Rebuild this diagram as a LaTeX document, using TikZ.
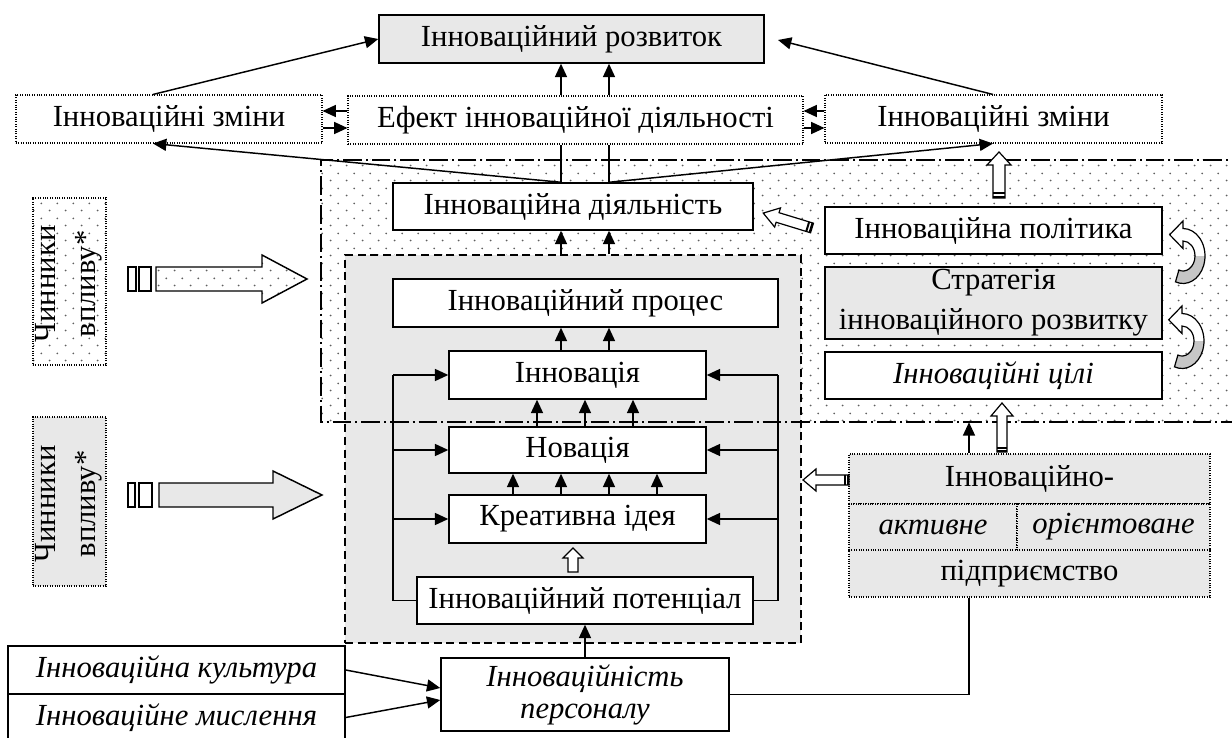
\documentclass[tikz,border=0pt]{standalone}
\usepackage{fontspec}
\setmainfont{Liberation Serif}
\usetikzlibrary{arrows.meta,patterns}
\definecolor{boxgray}{RGB}{232,232,232}
\definecolor{dotgray}{RGB}{95,95,95}
\pgfdeclarepatternformonly{sdots}{\pgfpointorigin}{\pgfpoint{11.7pt}{11.25pt}}{\pgfpoint{11.7pt}{11.25pt}}{%
 \pgfpathcircle{\pgfpoint{2pt}{2pt}}{0.75pt}%
 \pgfpathcircle{\pgfpoint{7.85pt}{7.625pt}}{0.75pt}%
 \pgfusepath{fill}}
\newcommand\myfs{\fontsize{23}{27}\selectfont}
% box node from pixel corners: style, x1, y1, x2, y2, name
\newcommand\bx[6]{\node[#1, minimum width={(#4-#2)*0.75pt}, minimum height={(#5-#3)*0.75pt}] (#6) at ({(#2+#4)/2},{(#3+#5)/2})}
% hollow block arrow: x, y (tail), angle, length, shaft half, head half, head length, stripes
\newcommand\harrow[8]{%
\begin{scope}[shift={(#1,#2)}, rotate=#3, x=0.75pt, y=0.75pt]
 \draw[line width=0.9pt, fill=white] (0,-#5) -- ({#4-#7},-#5) -- ({#4-#7},-#6) -- (#4,0) -- ({#4-#7},#6) -- ({#4-#7},#5) -- (0,#5) -- cycle;
 \ifnum#8=1
 \fill (0,-#5) rectangle (2,#5);
 \fill (3.5,-#5) rectangle (5.5,#5);
 \fi
\end{scope}}
\newcommand\curvarr[2]{%
\begin{scope}[shift={(#1,#2)}, yscale=1.25]
 \path[fill=white] (-110:16.5pt) arc[start angle=-110,end angle=90,radius=16.5pt] -- (0pt,21pt) -- (-10pt,12.75pt) -- (0pt,4.5pt) -- (0pt,9pt) arc[start angle=90,end angle=-110,radius=9pt] -- cycle;
 \fill[gray!45] (-110:16.5pt) arc[start angle=-110,end angle=0,radius=16.5pt] -- (0:9pt) arc[start angle=0,end angle=-110,radius=9pt] -- cycle;
 \draw[line width=0.9pt] (-110:16.5pt) arc[start angle=-110,end angle=90,radius=16.5pt] -- (0pt,21pt) -- (-10pt,12.75pt) -- (0pt,4.5pt) -- (0pt,9pt) arc[start angle=90,end angle=-110,radius=9pt] -- cycle;
\end{scope}}
\begin{document}
\begin{tikzpicture}[x=0.75pt,y=-0.75pt,
 base/.style={inner sep=0pt, font=\myfs},
 wbox/.style={base, draw, line width=1.1pt, fill=white},
 gbox/.style={base, draw, line width=1.1pt, fill=boxgray},
 dbox/.style={base, draw, line width=0.8pt, dash pattern=on 0.8pt off 1pt, fill=white},
 dgbox/.style={dbox, fill=boxgray},
 ibox/.style={wbox, font=\myfs\itshape},
 con/.style={line width=1.1pt},
 arr/.style={con, -{Triangle[length=10pt,width=9pt]}},
 dashdot/.style={line width=1.2pt, dash pattern=on 14pt off 3pt on 1.5pt off 3pt}]
\useasboundingbox (0,0) rectangle (1232,738);

% regions
\bx{inner sep=0pt, pattern=sdots, pattern color=dotgray}{321}{160}{1250}{422}{zone} {};
\bx{inner sep=0pt, draw, fill=boxgray, line width=1.1pt, dash pattern=on 6pt off 3.5pt}{345}{255}{801}{643}{core} {};
\draw[dashdot] (zone.north east) -- (zone.north west) -- (zone.south west) -- (zone.south east);

% nodes
\bx{gbox}{379}{15}{764}{63}{razv} {Інноваційний розвиток};
\bx{dbox}{16}{95}{322}{143}{zl} {Інноваційні зміни};
\bx{dbox}{348}{96}{803}{144}{eff} {Ефект інноваційної діяльності};
\bx{dbox}{825}{95}{1162}{143}{zr} {Інноваційні зміни};
\bx{wbox}{393}{183}{753}{230}{dial} {Інноваційна діяльність};
\bx{wbox}{825}{207}{1162}{254}{pol} {Інноваційна політика};
\bx{gbox, line width=2pt, align=center, font=\fontsize{23}{30}\selectfont}{825}{267}{1162}{339}{str} {Стратегія\\інноваційного розвитку};
\bx{ibox}{825}{352}{1162}{399}{cil} {Інноваційні цілі};
\bx{wbox}{393}{279}{778}{327}{proc} {Інноваційний процес};
\bx{wbox}{449}{351}{706}{399}{inn} {Інновація};
\bx{wbox}{449}{427}{706}{473}{nov} {Новація};
\bx{wbox}{449}{495}{706}{543}{kre} {Креативна ідея};
\bx{wbox}{417}{577}{753}{624}{pot} {Інноваційний потенціал};
\bx{ibox}{8}{646}{345}{694}{kul} {Інноваційна культура};
\bx{ibox}{8}{694}{345}{741}{mys} {Інноваційне мислення};
\bx{ibox, align=center, font=\fontsize{23}{24}\selectfont\itshape}{441}{658}{729}{731}{pers} {Інноваційність\\персоналу};

\bx{dgbox}{849}{454}{1210}{504}{ent1} {Інноваційно-};
\bx{dgbox, font=\myfs\itshape}{849}{504}{1017}{550}{ent2a} {активне};
\bx{dgbox, font=\myfs\itshape}{1017}{504}{1210}{550}{ent2b} {орієнтоване};
\bx{dgbox}{849}{550}{1210}{597}{ent3} {підприємство};

\bx{dbox, pattern=sdots, pattern color=dotgray}{33}{198}{106}{365}{f1} {};
\node[base, rotate=90, align=center, font=\fontsize{23}{30}\selectfont] (f1t) at (69,284) {Чинники\\впливу*};
\bx{dgbox}{33}{417}{106}{586}{f2} {};
\node[base, rotate=90, align=center, font=\fontsize{23}{30}\selectfont] (f2t) at (69,504) {Чинники\\впливу*};

% factor block arrows
\draw[line width=1.1pt, pattern=sdots, pattern color=dotgray] (156,267) -- (262,267) -- (262,255) -- (307,279) -- (262,303) -- (262,291) -- (156,291) -- cycle;
\draw[line width=1.1pt] (128,267) rectangle (136,291) (139,267) rectangle (151,291);
\draw[line width=1.1pt, fill=boxgray] (159,483) -- (273,483) -- (273,471) -- (322,495) -- (273,519) -- (273,507) -- (159,507) -- cycle;
\draw[line width=1.1pt] (128,483) rectangle (135,507) (139,483) rectangle (152,507);

% connectors top
\draw[arr] (561,0 |- eff.north) -- (561,0 |- razv.south);
\draw[arr] (609,0 |- eff.north) -- (609,0 |- razv.south);
\draw[con] (561,0 |- dial.north) -- (561,0 |- eff.south);
\draw[con] (609,0 |- dial.north) -- (609,0 |- eff.south);
\draw[arr] (561,0 |- dial.north) -- (153,0 |- zl.south);
\draw[arr] (609,0 |- dial.north) -- (993,0 |- zr.south);
\draw[arr] (153,0 |- zl.north) -- (razv.west);
\coordinate (rzr) at (778,40);
\draw[arr] (993,0 |- zr.north) -- (rzr);
\draw[arr] (eff.west |- 0,111) -- (zl.east |- 0,111);
\draw[arr] (zl.east |- 0,128) -- (eff.west |- 0,128);
\draw[arr] (zr.west |- 0,111) -- (eff.east |- 0,111);
\draw[arr] (eff.east |- 0,128) -- (zr.west |- 0,128);

% core
\draw[arr] (561,0 |- core.north) -- (561,0 |- dial.south);
\draw[arr] (609,0 |- core.north) -- (609,0 |- dial.south);
\draw[arr] (561,0 |- inn.north) -- (561,0 |- proc.south);
\draw[arr] (609,0 |- inn.north) -- (609,0 |- proc.south);
\foreach \x in {537,585,633} \draw[arr] (\x,0 |- nov.north) -- (\x,0 |- inn.south);
\foreach \x in {513,561,609,657} \draw[arr] (\x,0 |- kre.north) -- (\x,0 |- nov.south);
\draw[con] (pot.west) -| (393,0 |- inn.west);
\draw[arr] (393,0 |- inn.west) -- (inn.west);
\draw[arr] (393,0 |- nov.west) -- (nov.west);
\draw[arr] (393,0 |- kre.west) -- (kre.west);
\draw[con] (pot.east) -| (778,0 |- inn.east);
\draw[arr] (778,0 |- inn.east) -- (inn.east);
\draw[arr] (778,0 |- nov.east) -- (nov.east);
\draw[arr] (778,0 |- kre.east) -- (kre.east);

% bottom
\draw[arr] (585,0 |- pers.north) -- (585,0 |- pot.south);
\draw[arr] (kul.east) -- (pers.west |- 0,688);
\draw[arr] (mys.east) -- (pers.west |- 0,700);
\draw[con] (pers.east) -- (969,0 |- pers.east) -- (969,0 |- ent3.south);
\draw[arr] (969,0 |- ent1.north) -- (969,0 |- zone.south);

% hollow arrows
\harrow{999}{198}{90}{46}{6}{12}{13}{1}
\harrow{812}{228}{163}{51}{5}{10}{15}{1}
\harrow{1002}{452}{90}{49}{5}{11}{13}{1}
\harrow{849}{480}{180}{46}{5}{11}{13}{1}
\harrow{573}{572}{90}{24}{5}{10}{10}{0}

% curved arrows
\curvarr{1183}{256}
\curvarr{1182}{341}
\end{tikzpicture}
\end{document}
